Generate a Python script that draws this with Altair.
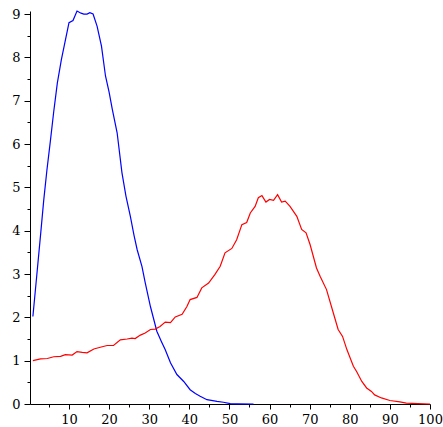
import altair as alt
import pandas as pd

blue_x = [1, 2, 3, 3.7, 4.5, 5.4, 6.2, 7.1, 8.1, 9, 10, 11, 12, 13, 13.7, 14.5, 15.2, 16, 17,
          18.1, 19.1, 20, 20.8, 22, 23.2, 24.2, 25.3, 26.2, 27, 28.2, 29, 30.3, 31.9, 33, 34,
          35.3, 36.9, 38.6, 40.2, 41.5, 42.7, 44.4, 46.9, 48.5, 50.2, 52, 56]
blue_y = [2.02, 3.0, 3.99, 4.7, 5.4, 6.1, 6.75, 7.41, 7.95, 8.35, 8.8, 8.85, 9.07, 9.02, 9.0,
          9.0, 9.03, 9.0, 8.72, 8.26, 7.57, 7.2, 6.8, 6.26, 5.34, 4.8, 4.33, 3.9, 3.56, 3.17,
          2.8, 2.25, 1.68, 1.45, 1.25, 0.95, 0.68, 0.52, 0.33, 0.24, 0.18, 0.1, 0.06, 0.04,
          0.01, 0.005, 0.0]

red_x = [1, 2.9, 4.6, 6.2, 7.9, 9.1, 10.8, 12, 13.3, 14.5, 16.2, 17.8, 19.5, 21.1, 22.8, 24.5,
         25.7, 26.5, 27.8, 29, 30.3, 31.5, 32.7, 34, 35.3, 36.5, 38.2, 39.4, 40.2, 41.9, 43.1,
         44.8, 46.4, 47.7, 48.9, 50.6, 51.8, 53.1, 54.3, 55.2, 56.4, 57.2, 58.1, 59.1, 60, 61,
         62, 63, 63.9, 65.1, 66.8, 68, 69.1, 70.1, 71.7, 72.6, 74.2, 75.9, 77.1, 78.2, 79.3,
         80.9, 81.7, 83, 84.2, 85.4, 86.2, 87.9, 90, 92.5, 94.1, 97, 100]
red_y = [1.0, 1.04, 1.05, 1.09, 1.1, 1.14, 1.13, 1.21, 1.19, 1.18, 1.27, 1.31, 1.35, 1.35, 1.48,
         1.5, 1.52, 1.51, 1.59, 1.64, 1.72, 1.73, 1.79, 1.89, 1.88, 2.01, 2.07, 2.25, 2.41, 2.46,
         2.68, 2.79, 2.99, 3.18, 3.49, 3.59, 3.79, 4.14, 4.19, 4.41, 4.56, 4.76, 4.81, 4.66,
         4.72, 4.7, 4.83, 4.66, 4.68, 4.56, 4.33, 4.03, 3.95, 3.68, 3.14, 2.95, 2.64, 2.1, 1.72,
         1.56, 1.25, 0.87, 0.75, 0.52, 0.37, 0.29, 0.21, 0.14, 0.08, 0.05, 0.02, 0.01, 0.0]

x_major = [10 * i for i in range(1, 11)]
x_minor = [10 * i + 5 for i in range(0, 10)]
y_major = list(range(0, 10))
y_minor = [i + 0.5 for i in range(0, 9)]

df = pd.concat([
    pd.DataFrame({"x": blue_x, "y": blue_y, "s": "blue", "o": range(len(blue_x))}),
    pd.DataFrame({"x": red_x, "y": red_y, "s": "red", "o": range(len(red_x))}),
])

font = "DejaVu Serif"
xs = alt.Scale(domain=[0.28, 100], nice=False, zero=False)
ys = alt.Scale(domain=[0, 9.07], nice=False)

minor = alt.Chart(df).mark_line(opacity=0).encode(
    x=alt.X("x:Q", scale=xs,
            axis=alt.Axis(values=x_minor, title=None, grid=False, labels=False, domain=False,
                          tickSize=3, tickColor="black", orient="bottom")),
    y=alt.Y("y:Q", scale=ys,
            axis=alt.Axis(values=y_minor, title=None, grid=False, labels=False, domain=False,
                          tickSize=3, tickColor="black", orient="left")),
    detail="s:N",
)

main = alt.Chart(df).mark_line(strokeWidth=1.2).encode(
    x=alt.X("x:Q", scale=xs,
            axis=alt.Axis(values=x_major, title=None, grid=False, format="d", orient="bottom",
                          tickSize=5, labelPadding=4, labelFont=font, labelFontSize=13,
                          labelColor="black", domainColor="black", tickColor="black",
                          labelFlush=False, labelOverlap=False)),
    y=alt.Y("y:Q", scale=ys,
            axis=alt.Axis(values=y_major, title=None, grid=False, format="d", orient="left",
                          tickSize=6, labelPadding=4, labelFont=font, labelFontSize=13,
                          labelColor="black", domainColor="black", tickColor="black",
                          labelFlush=False, labelOverlap=False)),
    color=alt.Color("s:N", scale=alt.Scale(domain=["blue", "red"], range=["#0000ff", "#ff0000"]),
                    legend=None),
    order="o:Q",
)

chart = alt.layer(minor, main).resolve_axis(x="independent", y="independent").properties(
    width=400, height=393,
    autosize=alt.AutoSizeParams(type="none"),
    padding={"left": 30, "top": 11, "right": 13, "bottom": 23},
).configure(background="white").configure_view(stroke=None)

chart.save("out.html", embed_options={"renderer": "svg", "actions": False})
